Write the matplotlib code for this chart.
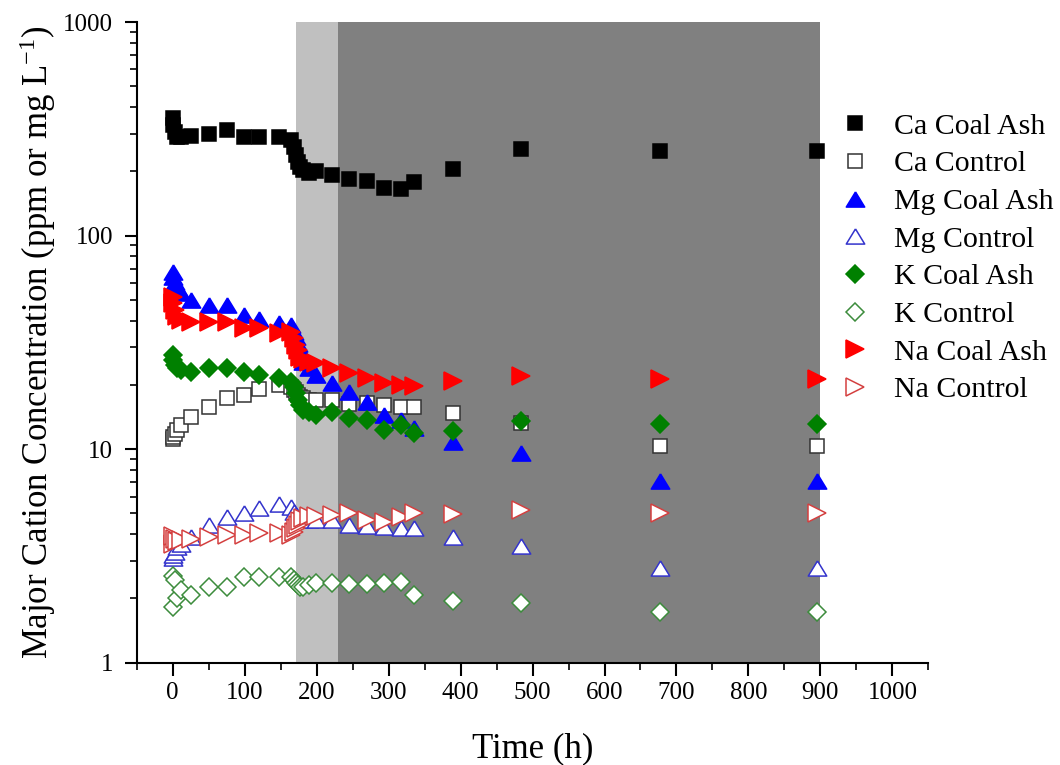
import numpy as np
import matplotlib.pyplot as plt
from matplotlib.ticker import LogLocator, NullFormatter, MultipleLocator

plt.rcParams['font.family'] = 'Liberation Serif'
plt.rcParams['mathtext.fontset'] = 'custom'
plt.rcParams['mathtext.rm'] = 'Liberation Serif'
plt.rcParams['mathtext.it'] = 'Liberation Serif:italic'

# sampling times (h)
hours = [0, 1, 3, 6, 12, 26, 51, 76, 99, 120, 148, 164, 168, 171, 174, 177, 181,
         190, 199, 221, 245, 270, 294, 317, 335, 389, 484, 677, 895]

# concentrations (mg/L)
ca_ash = [355, 330, 307, 291, 289, 293, 299, 313, 289, 291, 289, 281, 261, 239, 220, 210, 203,
          197, 200, 192, 184, 181, 167, 165, 179, 205, 255, 248, 248]
ca_ctrl = [11.2, 11.4, 11.8, 12.3, 13.0, 14.2, 15.8, 17.3, 17.9, 19.1, 20.0, 19.5, 19.0, 18.5, 18.0, 17.6, 17.3,
           17.0, 17.0, 16.9, 16.3, 16.4, 16.1, 15.8, 15.8, 14.8, 13.3, 10.35, 10.35]
mg_ash = [67.8, 64.2, 60.9, 57.7, 53.7, 50.0, 47.3, 47.3, 42.5, 40.8, 38.9, 38.2, 35.5, 33.4, 31.1, 29.2, 25.7,
          24.0, 22.3, 20.4, 18.6, 16.7, 14.4, 13.7, 12.5, 10.8, 9.57, 7.1, 7.1]
mg_ctrl = [3.08, 3.19, 3.31, 3.49, 3.6, 3.89, 4.41, 4.80, 5.01, 5.29, 5.54, 5.38, 5.10, 4.92, 4.75, 4.70, 4.66,
           4.66, 4.66, 4.66, 4.41, 4.37, 4.31, 4.26, 4.26, 3.89, 3.52, 2.77, 2.77]
k_ash = [27.6, 26.2, 24.8, 23.9, 23.5, 23.1, 23.9, 23.9, 23.1, 22.3, 21.5, 20.7, 19.6, 18.3, 17.0, 16.1, 15.3,
         15.0, 14.5, 15.0, 14.0, 13.7, 12.3, 13.0, 11.9, 12.2, 13.6, 13.1, 13.1]
k_ctrl = [1.83, 2.55, 2.44, 2.0, 2.2, 2.07, 2.27, 2.27, 2.53, 2.53, 2.53, 2.53, 2.45, 2.36, 2.30, 2.27, 2.27,
          2.30, 2.36, 2.36, 2.33, 2.33, 2.36, 2.38, 2.07, 1.95, 1.91, 1.72, 1.72]
na_ash = [51.8, 48.2, 44.8, 41.8, 40.3, 39.6, 39.6, 39.6, 36.8, 36.8, 34.9, 35.5, 33.0, 30.7, 29.2, 27.1, 26.5,
          25.5, 25.3, 23.9, 22.7, 21.5, 20.4, 20.0, 19.8, 20.9, 22.0, 21.2, 21.2]
na_ctrl = [3.6, 3.9, 3.8, 3.7, 3.75, 3.8, 3.89, 3.96, 3.96, 4.04, 4.04, 3.96, 4.11, 4.26, 4.41, 4.60, 4.75,
           4.86, 4.86, 4.92, 5.01, 4.66, 4.57, 4.83, 5.01, 4.97, 5.19, 5.04, 5.04]

# wide triangle shape
tri_up = [(0, 0.82), (-1, -0.82), (1, -0.82), (0, 0.82)]

fig = plt.figure(figsize=(10.6, 7.65), dpi=100)
ax = fig.add_axes([0.129, 0.1337, 0.7468, 0.8375])

ax.axvspan(171, 230, color='#c0c0c0', lw=0, zorder=0)
ax.axvspan(230, 899, color='#808080', lw=0, zorder=0)

series = [
    (ca_ash, 's', 'black', 'black', 'Ca Coal Ash', 9.6),
    (ca_ctrl, 's', 'white', '#333333', 'Ca Control', 9.4),
    (mg_ash, tri_up, '#0000ff', '#0000ff', 'Mg Coal Ash', 13.3),
    (mg_ctrl, tri_up, 'white', '#3333cc', 'Mg Control', 13.3),
    (k_ash, 'D', '#008000', '#008000', 'K Coal Ash', 9.6),
    (k_ctrl, 'D', 'white', '#3c8c3c', 'K Control', 9.6),
    (na_ash, '>', '#ff0000', '#ff0000', 'Na Coal Ash', 12.5),
    (na_ctrl, '>', 'white', '#d44040', 'Na Control', 12.5),
]
for vals, mk, fc, ec, lab, ms in series:
    ax.plot(hours, vals, linestyle='none', marker=mk, ms=ms, mfc=fc, mec=ec, mew=1.1,
            label=lab, zorder=3)

ax.set_yscale('log')
ax.set_ylim(1, 1000)
ax.set_xlim(-50, 1050)
ax.set_yticks([1, 10, 100, 1000], labels=['1', '10', '100', '1000'])
ax.yaxis.set_minor_locator(LogLocator(base=10, subs=np.arange(2, 10)))
ax.yaxis.set_minor_formatter(NullFormatter())
ax.set_xticks(np.arange(0, 1001, 100))
ax.xaxis.set_minor_locator(MultipleLocator(50))

for side in ['top', 'right']:
    ax.spines[side].set_visible(False)
for side in ['left', 'bottom']:
    ax.spines[side].set_linewidth(1.5)

ax.tick_params(which='major', direction='out', length=9, width=1.5, labelsize=18, pad=5)
ax.tick_params(which='minor', direction='out', length=5, width=1.2)
ax.tick_params(axis='y', which='major', pad=8)

ax.set_xlabel('Time (h)', fontsize=25, labelpad=20)
ax.set_ylabel(r'Major Cation Concentration (ppm or mg L$^{-1}$)', fontsize=25, labelpad=4)

ax.legend(loc='upper left', bbox_to_anchor=(0.7815, 0.868), bbox_transform=fig.transFigure,
          frameon=False, fontsize=21.5, numpoints=1, handlelength=1.0, handletextpad=0.8,
          labelspacing=0.36, borderaxespad=0)

fig.savefig('out.png', dpi=100)
